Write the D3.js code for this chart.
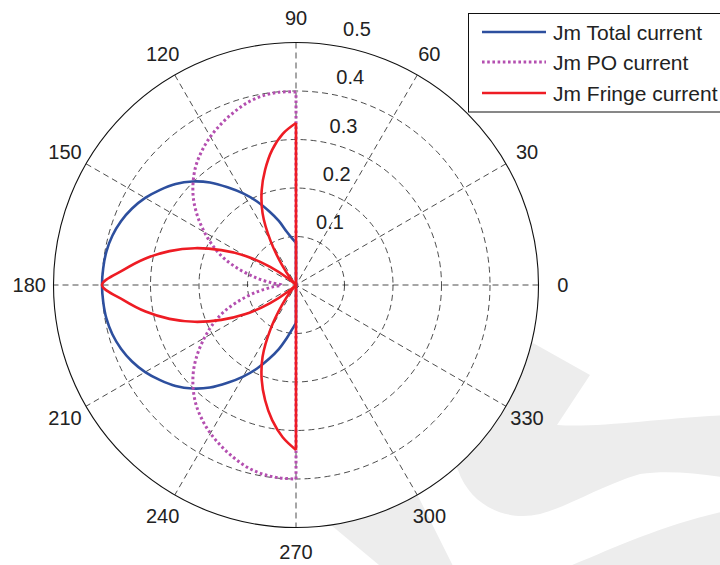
<!DOCTYPE html>
<html>
<head>
<meta charset="utf-8">
<script src="https://cdn.jsdelivr.net/npm/d3@7/dist/d3.min.js"></script>
<style>
  html, body { margin: 0; padding: 0; background: #fff; }
  svg { display: block; font-family: "Liberation Sans", Arial, Helvetica, sans-serif; }
</style>
</head>
<body>
<svg id="chart" width="720" height="565"></svg>
<script>
// ---- data ----
const angleDeg = [90,95,100,105,110,115,120,125,130,135,140,145,150,155,160,165,170,175,180,
                  185,190,195,200,205,210,215,220,225,230,235,240,245,250,255,260,265,270];
const totalCurrent = [0.087,0.097,0.112,0.137,0.162,0.19,0.218,0.246,0.276,0.302,0.324,0.342,0.359,0.373,0.384,0.392,0.397,0.399,0.4,
                      0.399,0.397,0.392,0.384,0.373,0.359,0.342,0.324,0.302,0.276,0.246,0.218,0.19,0.162,0.137,0.112,0.092,0.078];
const poCurrent = [0.398,0.399,0.396,0.389,0.378,0.366,0.353,0.338,0.321,0.3,0.276,0.248,0.218,0.188,0.156,0.118,0.082,0.05,0.03,
                   0.05,0.082,0.118,0.156,0.188,0.218,0.248,0.276,0.3,0.321,0.338,0.353,0.366,0.378,0.389,0.396,0.399,0.4];
const fringeCurrent = [0.334,0.313,0.283,0.246,0.207,0.163,0.105,0.05,0.015,0.0,0.02,0.065,0.12,0.17,0.222,0.27,0.315,0.357,0.4,
                       0.357,0.315,0.27,0.222,0.17,0.12,0.065,0.02,0.0,0.015,0.05,0.105,0.163,0.207,0.246,0.283,0.315,0.34];
const seriesNames = ["Jm Total current", "Jm PO current", "Jm Fringe current"];
const radialTicks = [0.1, 0.2, 0.3, 0.4, 0.5];
const angleTicks = [0, 30, 60, 90, 120, 150, 180, 210, 240, 270, 300, 330];
const rMax = 0.5;

// ---- layout ----
const cx = 296, cy = 285, R = 242.5;
const svg = d3.select("#chart");
const r = d3.scaleLinear().domain([0, rMax]).range([0, R]);
const toRad = d => d * Math.PI / 180;
const px = (deg, v) => cx + r(v) * Math.cos(toRad(deg));
const py = (deg, v) => cy - r(v) * Math.sin(toRad(deg));

// watermark (background decoration, partly hidden by the polar disc)
const wm = svg.append("g").attr("fill", "#ededed").attr("stroke", "none");
wm.append("path").attr("d",
  "M 533,343 L 590,375 L 557,425 C 600,428 660,418 730,415 L 730,478 C 700,474 670,470 640,474 " +
  "C 600,486 570,506 540,514 C 505,522 470,505 458,470 L 440,440 L 480,380 Z");
wm.append("path").attr("d", "M 325,520 L 385,570 L 455,570 L 410,480 Z");
wm.append("path").attr("d", "M 560,570 C 610,550 660,525 730,510 L 730,570 Z");

// polar background
svg.append("circle").attr("cx", cx).attr("cy", cy).attr("r", R).attr("fill", "#fff");

const grid = svg.append("g").attr("fill", "none").attr("stroke", "#111").attr("stroke-width", 0.75)
  .attr("stroke-dasharray", "6,4");
radialTicks.filter(t => t < rMax).forEach(t => {
  grid.append("circle").attr("cx", cx).attr("cy", cy).attr("r", r(t));
});
[0, 30, 60, 90, 120, 150].forEach(a => {
  grid.append("line")
    .attr("x1", px(a, rMax)).attr("y1", py(a, rMax))
    .attr("x2", px(a + 180, rMax)).attr("y2", py(a + 180, rMax));
});
svg.append("circle").attr("cx", cx).attr("cy", cy).attr("r", R)
  .attr("fill", "none").attr("stroke", "#111").attr("stroke-width", 1.1);

// radial tick labels
const labelAngle = 82;
svg.append("g").selectAll("text").data(radialTicks).join("text")
  .attr("x", d => px(labelAngle, d + 0.005) + 13)
  .attr("y", d => py(labelAngle, d + 0.005) - 6)
  .attr("font-size", 20).attr("fill", "#222")
  .text(d => d.toString());

// angle labels
svg.append("g").selectAll("text").data(angleTicks).join("text")
  .attr("x", d => px(d, rMax * 1.1))
  .attr("y", d => py(d, rMax * 1.1))
  .attr("text-anchor", "middle").attr("dominant-baseline", "central")
  .attr("font-size", 20).attr("fill", "#222")
  .text(d => d);

// curves
const radial = d3.lineRadial()
  .angle(d => Math.PI / 2 - toRad(d[0]))
  .radius(d => r(d[1]))
  .curve(d3.curveCatmullRom.alpha(0.5));
const radialStraight = d3.lineRadial()
  .angle(d => Math.PI / 2 - toRad(d[0]))
  .radius(d => r(d[1]))
  .curve(d3.curveLinear);

const styles = [
  { values: totalCurrent, color: "#2d4f9e", width: 2.6, dash: null },
  { values: poCurrent, color: "#b44fb0", width: 3, dash: "2.6,2.6" },
  { values: fringeCurrent, color: "#ee1c24", width: 2.6, dash: null }
];
const plot = svg.append("g").attr("transform", `translate(${cx},${cy})`);
styles.forEach(s => {
  const pts = angleDeg.map((a, i) => [a, s.values[i]]);
  const first = pts[0], last = pts[pts.length - 1];
  const g = plot.append("g").attr("fill", "none").attr("stroke", s.color)
    .attr("stroke-width", s.width).attr("stroke-linejoin", "round");
  if (s.dash) g.attr("stroke-dasharray", s.dash);
  g.append("path").attr("d", radialStraight([[first[0], 0], first]));
  g.append("path").attr("d", radial(pts));
  g.append("path").attr("d", radialStraight([last, [last[0], 0]]));
});

// legend
const lg = svg.append("g");
lg.append("rect").attr("x", 468.5).attr("y", 13.5).attr("width", 262).attr("height", 98.5)
  .attr("fill", "#fff").attr("stroke", "#111").attr("stroke-width", 1);
const rowY = [32, 62, 93];
styles.forEach((s, i) => {
  const l = lg.append("line").attr("x1", 482).attr("x2", 546).attr("y1", rowY[i]).attr("y2", rowY[i])
    .attr("stroke", s.color).attr("stroke-width", s.width);
  if (s.dash) l.attr("stroke-dasharray", s.dash);
  lg.append("text").attr("x", 553).attr("y", rowY[i]).attr("dominant-baseline", "central")
    .attr("font-size", 21).attr("fill", "#222").text(seriesNames[i]);
});
</script>
</body>
</html>
